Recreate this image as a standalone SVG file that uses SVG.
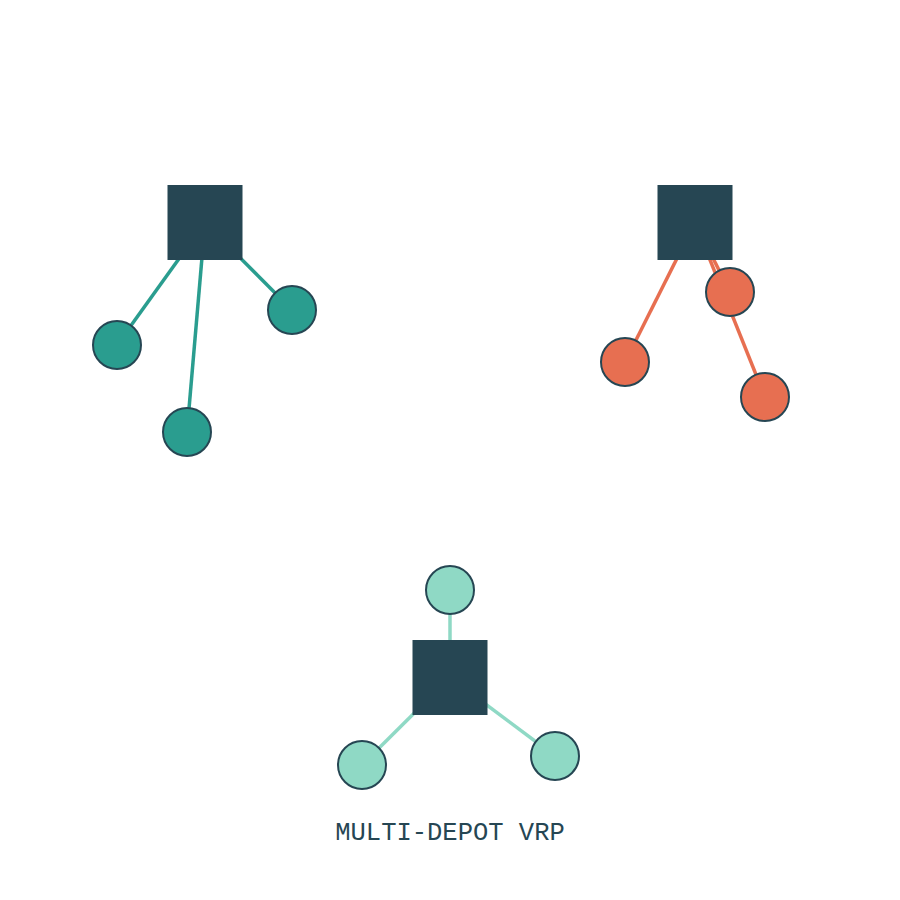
<svg xmlns="http://www.w3.org/2000/svg" width="900" height="900" viewBox="0 0 900 900">
<style>
.depot{fill:#264653}
.cust{stroke:#264653;stroke-width:2}
.c1{fill:#2a9d8f}
.c2{fill:#e76f51}
.c3{fill:#8fd9c5}
.edge{stroke-width:3.5;fill:none}
.e1{stroke:#2a9d8f}
.e2{stroke:#e76f51}
.e3{stroke:#8fd9c5}
.title{font-family:"Liberation Mono","Courier New",monospace;font-size:25.5px;fill:#264653;text-anchor:middle}
</style>
<rect width="900" height="900" fill="#ffffff"/>
<g id="connectors">
<line class="edge e1" x1="205" y1="222.5" x2="117" y2="345"/>
<line class="edge e1" x1="205" y1="222.5" x2="187" y2="432"/>
<line class="edge e1" x1="205" y1="222.5" x2="292" y2="310"/>
<line class="edge e2" x1="695" y1="222.5" x2="625" y2="362"/>
<line class="edge e2" x1="695" y1="222.5" x2="730" y2="292"/>
<line class="edge e2" x1="695" y1="222.5" x2="765" y2="397"/>
<line class="edge e3" x1="450" y1="677.5" x2="450" y2="590"/>
<line class="edge e3" x1="450" y1="677.5" x2="362" y2="765"/>
<line class="edge e3" x1="450" y1="677.5" x2="555" y2="756"/>
</g>
<g id="depot1"><rect class="depot" x="167.5" y="185" width="75" height="75"/></g>
<g id="depot2"><rect class="depot" x="657.5" y="185" width="75" height="75"/></g>
<g id="depot3"><rect class="depot" x="412.5" y="640" width="75" height="75"/></g>
<g id="c1a"><circle class="cust c1" cx="117" cy="345" r="24"/></g>
<g id="c1b"><circle class="cust c1" cx="187" cy="432" r="24"/></g>
<g id="c1c"><circle class="cust c1" cx="292" cy="310" r="24"/></g>
<g id="c2a"><circle class="cust c2" cx="730" cy="292" r="24"/></g>
<g id="c2b"><circle class="cust c2" cx="625" cy="362" r="24"/></g>
<g id="c2c"><circle class="cust c2" cx="765" cy="397" r="24"/></g>
<g id="c3a"><circle class="cust c3" cx="450" cy="590" r="24"/></g>
<g id="c3b"><circle class="cust c3" cx="362" cy="765" r="24"/></g>
<g id="c3c"><circle class="cust c3" cx="555" cy="756" r="24"/></g>
<g id="label"><text class="title" x="450" y="839.5">MULTI-DEPOT VRP</text></g>
</svg>
